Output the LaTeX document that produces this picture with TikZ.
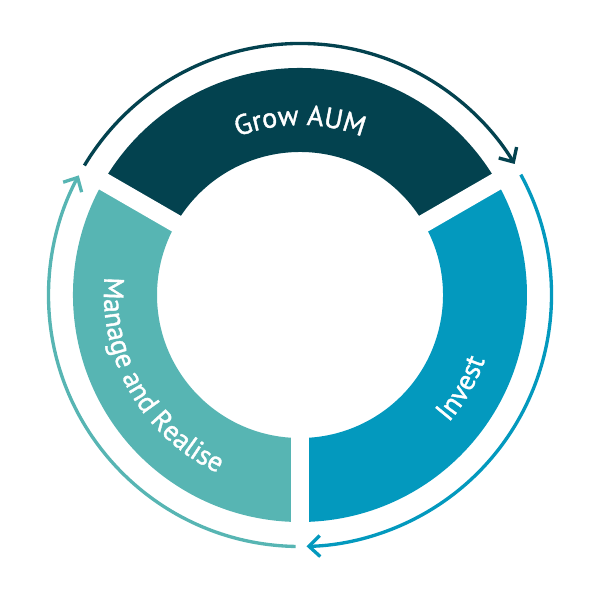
\documentclass[tikz,border=0pt]{standalone}
\usepackage{fontspec}
\usepackage{xcolor}
\usepackage{tikz}
\usetikzlibrary{decorations.text,arrows.meta}
\newfontfamily\ringfont[FakeBold=1.3]{PT Sans}
\definecolor{growcol}{HTML}{03424F}
\definecolor{investcol}{HTML}{0399BE}
\definecolor{managecol}{HTML}{57B5B3}
\newcommand{\ringtext}{\ringfont\fontsize{16}{19}\selectfont}

\begin{document}
\begin{tikzpicture}
\tikzstyle{gap} = [white, line width = 0.36cm]
\tikzstyle{ring arrow} = [line width = 1.9pt, -{Straight Barb[length=2.2mm,width=4.2mm]}]
\tikzstyle{ring label} = [decorate, decoration = {text along path, text align = center, text color = white}]
\useasboundingbox (-6,-6.1) rectangle (6,5.9);
%
	% segments
	\fill[growcol] (30:4.54) arc[start angle=30, end angle=150, radius=4.54]
		-- (150:2.86) arc[start angle=150, end angle=30, radius=2.86] -- cycle;
	\fill[managecol] (150:4.54) arc[start angle=150, end angle=270, radius=4.54]
		-- (270:2.86) arc[start angle=270, end angle=150, radius=2.86] -- cycle;
	\fill[investcol] (270:4.54) arc[start angle=270, end angle=390, radius=4.54]
		-- (390:2.86) arc[start angle=390, end angle=270, radius=2.86] -- cycle;
	\foreach \a in {30,150,270}
		\draw[gap] (0,0) -- (\a:4.8);
	% labels
	\path[ring label, decoration = {text = {|\ringtext|Grow AUM}}]
		(150:3.4) arc[start angle=150, end angle=30, radius=3.4];
	\path[ring label, decoration = {text = {|\ringtext|Manage and Realise}}]
		(150:3.92) arc[start angle=150, end angle=270, radius=3.92];
	\path[ring label, decoration = {text = {|\ringtext|Invest}}]
		(270:3.92) arc[start angle=270, end angle=390, radius=3.92];
	% arrows round the ring
	\coordinate (growstart) at (149:5.03);
	\coordinate (investstart) at (28.6:5.03);
	\coordinate (managestart) at (-91:5.03);
	\draw[ring arrow, growcol] (growstart) arc[start angle=149, end angle=31.4, radius=5.03];
	\draw[ring arrow, investcol] (investstart) arc[start angle=28.6, end angle=-88.5, radius=5.03];
	\draw[ring arrow, managecol] (managestart) arc[start angle=-91, end angle=-208.4, radius=5.03];
\end{tikzpicture}
\end{document}
